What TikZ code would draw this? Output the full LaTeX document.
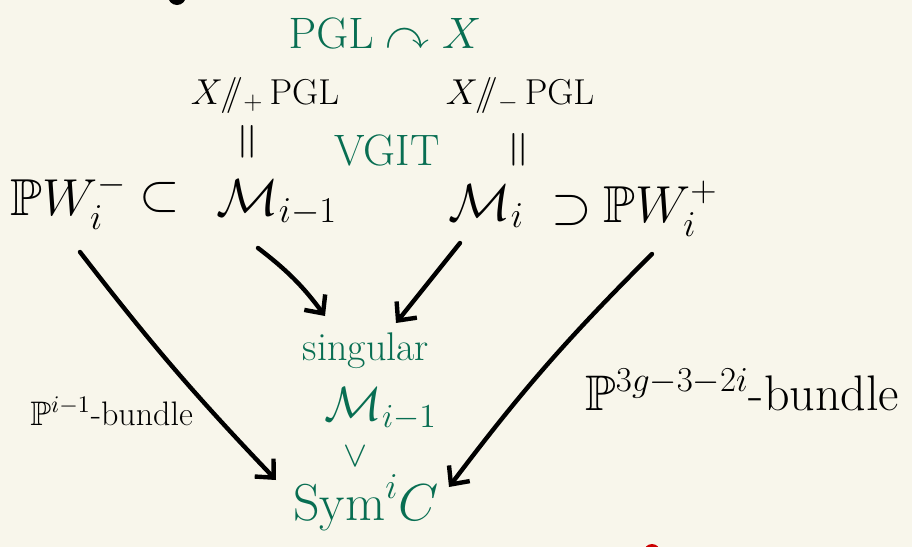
\RequirePackage{fix-cm}
\documentclass[tikz,border=0pt]{standalone}
\usepackage{amsmath, amssymb}
\usepackage{xcolor}
\usetikzlibrary{arrows.meta}
\definecolor{paper}{RGB}{248,246,235}
\definecolor{inkgreen}{RGB}{8,110,82}
\tikzset{
    bigmath/.style={inner sep=0pt, font=\fontsize{26}{30}\selectfont},
    midmath/.style={inner sep=0pt, font=\fontsize{18}{21}\selectfont},
    greenink/.style={text=inkgreen},
    link/.style={-{Straight Barb[length=7pt, width=13pt]}, line width=2.2pt, line cap=round, line join=round}
}

\begin{document}
\begin{tikzpicture}[x=0.5pt, y=-0.5pt]

\fill[paper] (0,0) rectangle (912,547);
\useasboundingbox (0,0) rectangle (912,547);

% Top row
\node[midmath, greenink, font=\fontsize{22}{26}\selectfont] (action) at (385,33) {$\mathrm{PGL}\curvearrowright X$};
\node[midmath] (gitplus) at (265,95) {$X/\!\!/_{+}\,\mathrm{PGL}$};
\node[midmath] (gitminus) at (520,95) {$X/\!\!/_{-}\,\mathrm{PGL}$};
\node[midmath, font=\fontsize{26}{30}\selectfont, rotate=90] (eqleft) at (251,142) {$=$};
\node[midmath, font=\fontsize{26}{30}\selectfont, rotate=90] (eqright) at (522,150) {$=$};
\node[midmath, greenink, font=\fontsize{22}{26}\selectfont] (vgit) at (387,150) {VGIT};

% Middle row
\node[bigmath, anchor=base west] (PWminus) at (10,215) {$\mathbb{P}W_i^-$};
\node[bigmath] (subL) at (160,197) {$\subset$};
\node[bigmath, anchor=base west] (Mprev) at (216,215) {$\mathcal{M}_{i-1}$};
\node[bigmath, anchor=base west] (Mi) at (448,220) {$\mathcal{M}_i$};
\node[bigmath] (supR) at (572,210) {$\supset$};
\node[bigmath, anchor=base west] (PWplus) at (603,222) {$\mathbb{P}W_i^+$};

% Bottom
\node[midmath, greenink, font=\fontsize{20}{24}\selectfont, anchor=base] (singular) at (366,360) {singular};
\node[bigmath, greenink, font=\fontsize{24}{28}\selectfont, anchor=base west] (Msing) at (324,420) {$\mathcal{M}_{i-1}$};
\node[midmath, greenink] (vee) at (355,456) {$\vee$};
\node[bigmath, greenink, anchor=base west] (sym) at (293,520) {$\mathrm{Sym}^i C$};
\node[midmath, font=\fontsize{17}{20}\selectfont, anchor=base west] (bundleL) at (30,425) {$\mathbb{P}^{i-1}$-bundle};
\node[midmath, font=\fontsize{25}{29}\selectfont, anchor=base west] (bundleR) at (585,410) {$\mathbb{P}^{3g-3-2i}$-bundle};

% Arrows
\draw[link] ([shift={(70,37)}]PWminus.base west) to[bend right=3] ([shift={(-17,-40)}]sym.base west);
\draw[link] ([shift={(42,33)}]Mprev.base west) to[bend left=8] ([shift={(-41,-44)}]singular.base);
\draw[link] ([shift={(12,23)}]Mi.base west) to ([shift={(30,-37)}]singular.base);
\draw[link] ([shift={(49,32)}]PWplus.base west) to[bend right=4] ([shift={(156,-33)}]sym.base west);

% Stray marks
\fill (177,-4) circle (9);
\fill[red!80!black] (652,552) circle (8);

\end{tikzpicture}
\end{document}
